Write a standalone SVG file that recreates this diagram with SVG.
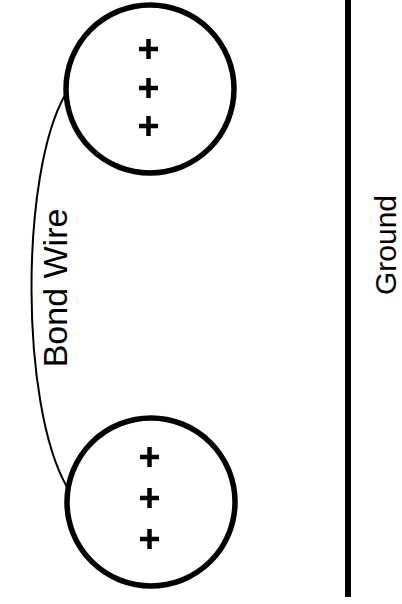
<svg xmlns="http://www.w3.org/2000/svg" width="402" height="604" viewBox="0 0 402 604">
<style>
.pad{fill:#fff;stroke:#000;stroke-width:5.5}
.plus{stroke:#000;stroke-width:4.5;fill:none}
.lbl{font-family:"Liberation Sans",Arial,sans-serif;fill:#000}
</style>
<rect width="402" height="604" fill="#fff"/>
<g id="connectors">
<path d="M65,95 C20,175 20,405 67,487" fill="none" stroke="#000" stroke-width="2"/>
</g>
<g id="pad-top">
<circle class="pad" cx="150" cy="89" r="84"/>
<path class="plus" d="M139,49h19M148.5,39v20M139,88h19M148.5,78v20M139,126h19M148.5,116v20"/>
</g>
<g id="pad-bottom">
<circle class="pad" cx="151" cy="502" r="84"/>
<path class="plus" d="M140,457h19M149.5,447v20M140,498h19M149.5,488v20M140,539h19M149.5,529v20"/>
</g>
<g id="bond-wire-label">
<text class="lbl" font-size="34" text-anchor="middle" transform="translate(67,288) rotate(-90)">Bond Wire</text>
</g>
<g id="ground">
<line x1="348" y1="0" x2="348" y2="597" stroke="#000" stroke-width="6"/>
<text class="lbl" font-size="30" text-anchor="middle" transform="translate(396,245) rotate(-90)">Ground</text>
</g>
</svg>
